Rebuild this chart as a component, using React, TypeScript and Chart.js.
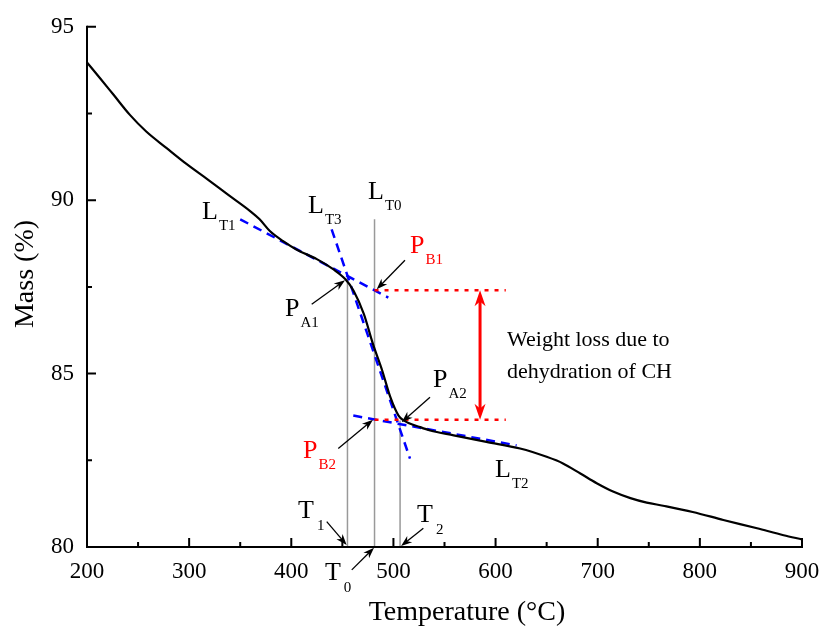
import React, { useEffect, useRef } from 'react';
import { Chart, registerables } from 'chart.js';
Chart.register(...registerables);

// ---- data ----
const temperature = [200, 213, 226, 242, 258, 278, 298, 318, 338, 360, 369, 379, 392, 405, 425, 441, 453, 461, 471, 480, 489, 497, 505, 510, 526, 536, 559, 591, 624, 650, 666, 683, 699, 715, 732, 748, 764, 793, 823, 856, 882, 900];
const mass = [93.97, 93.51, 93.04, 92.46, 91.98, 91.5, 91.03, 90.6, 90.16, 89.68, 89.45, 89.11, 88.82, 88.58, 88.3, 88.01, 87.72, 87.39, 86.72, 85.85, 85.09, 84.32, 83.79, 83.65, 83.46, 83.36, 83.22, 83.03, 82.84, 82.6, 82.41, 82.12, 81.84, 81.6, 81.41, 81.28, 81.19, 81.01, 80.78, 80.54, 80.34, 80.22];

const xTicks = [200, 300, 400, 500, 600, 700, 800, 900];
const yTicks = [80, 85, 90, 95];

// tangent lines (blue dashed)
const lt1T = [350, 495];
const lt1M = [89.45, 87.19];
const lt3T = [439.5, 516.2];
const lt3M = [89.16, 82.55];
const lt2T = [460.7, 620.6];
const lt2M = [83.79, 82.93];

// characteristic temperatures (grey verticals) and their top masses
const charT = [455, 481.5, 506.5];
const charTop = [87.77, 89.45, 83.65];

// P_B1 / P_B2 levels (red dotted)
const levelM = [87.4, 83.67];
const levelEndT = 610;
const arrowT = 584.8;

// text labels: main letter, subscript, colour, anchor (T, M)
const labelMain = ['L', 'L', 'L', 'P', 'P', 'P', 'P', 'L', 'T', 'T', 'T'];
const labelSub = ['T1', 'T3', 'T0', 'B1', 'A1', 'A2', 'B2', 'T2', '1', '2', '0'];
const labelRed = [false, false, false, true, false, false, true, false, false, false, false];
const labelT = [312.6, 416.4, 475.1, 516.2, 393.9, 538.7, 411.5, 599.5, 406.6, 523.1, 433];
const labelM = [89.45, 89.63, 90.03, 88.48, 86.67, 84.6, 82.56, 82.01, 80.83, 80.72, 79.05];

// black pointer arrows: from (T,M) to (T,M)
const ptrFromT = [511.3, 420.0, 535.8, 446.0, 434.7, 529.3, 459.2];
const ptrFromM = [88.27, 87.0, 84.32, 82.84, 80.73, 80.54, 79.34];
const ptrToT = [483.6, 452.6, 508.1, 480.0, 454.2, 507.5, 481.0];
const ptrToM = [87.43, 87.69, 83.6, 83.67, 80.06, 80.03, 79.98];

const noteLines = ['Weight loss due to', 'dehydration of CH'];
const noteT = 611.2;
const noteM = [85.8, 84.88];

const FONT = '"Liberation Serif", "Times New Roman", serif';

function pts(ts: number[], ms: number[]) {
  return ts.map((t, i) => ({ x: t, y: ms[i] }));
}

function arrowHead(ctx: CanvasRenderingContext2D, x1: number, y1: number, x2: number, y2: number, len: number, half: number) {
  const a = Math.atan2(y2 - y1, x2 - x1);
  const bx = x2 - len * Math.cos(a);
  const by = y2 - len * Math.sin(a);
  const mx = x2 - len * 0.7 * Math.cos(a);
  const my = y2 - len * 0.7 * Math.sin(a);
  ctx.beginPath();
  ctx.moveTo(x2, y2);
  ctx.lineTo(bx + half * Math.sin(a), by - half * Math.cos(a));
  ctx.lineTo(mx, my);
  ctx.lineTo(bx - half * Math.sin(a), by + half * Math.cos(a));
  ctx.closePath();
  ctx.fill();
}

const annotPlugin = {
  id: 'annot',
  afterDatasetsDraw(chart: any) {
    const { ctx } = chart;
    const xs = chart.scales.x;
    const ys = chart.scales.y;
    const px = (t: number) => xs.getPixelForValue(t);
    const py = (m: number) => ys.getPixelForValue(m);
    ctx.save();

    // axes lines
    ctx.strokeStyle = '#000';
    ctx.lineWidth = 2;
    ctx.lineCap = 'square';
    ctx.beginPath();
    ctx.moveTo(px(200), py(95));
    ctx.lineTo(px(200), py(80));
    ctx.lineTo(px(900), py(80));
    ctx.stroke();
    ctx.lineCap = 'butt';
    // inward ticks
    ctx.beginPath();
    for (let t = 200; t <= 900; t += 50) {
      const len = t % 100 === 0 ? 9 : 5;
      ctx.moveTo(px(t), py(80));
      ctx.lineTo(px(t), py(80) - len);
    }
    for (let m = 80; m <= 95; m += 2.5) {
      const len = m % 5 === 0 ? 9 : 5;
      ctx.moveTo(px(200), py(m));
      ctx.lineTo(px(200) + len, py(m));
    }
    ctx.stroke();

    // black pointer arrows
    ctx.strokeStyle = '#000';
    ctx.fillStyle = '#000';
    ctx.lineWidth = 1.3;
    for (let i = 0; i < ptrFromT.length; i++) {
      const x1 = px(ptrFromT[i]), y1 = py(ptrFromM[i]);
      const x2 = px(ptrToT[i]), y2 = py(ptrToM[i]);
      const a = Math.atan2(y2 - y1, x2 - x1);
      ctx.beginPath();
      ctx.moveTo(x1, y1);
      ctx.lineTo(x2 - 6 * Math.cos(a), y2 - 6 * Math.sin(a));
      ctx.stroke();
      arrowHead(ctx, x1, y1, x2, y2, 11, 4);
    }

    // red double arrow
    ctx.strokeStyle = '#ff0000';
    ctx.fillStyle = '#ff0000';
    ctx.lineWidth = 3;
    const ax = px(arrowT);
    const ay1 = py(levelM[0]);
    const ay2 = py(levelM[1]);
    ctx.beginPath();
    ctx.moveTo(ax, ay1 + 10);
    ctx.lineTo(ax, ay2 - 10);
    ctx.stroke();
    arrowHead(ctx, ax, ay2, ax, ay1, 16, 5.5);
    arrowHead(ctx, ax, ay1, ax, ay2, 16, 5.5);

    // labels
    ctx.textBaseline = 'alphabetic';
    ctx.textAlign = 'left';
    for (let i = 0; i < labelMain.length; i++) {
      const x = px(labelT[i]);
      const y = py(labelM[i]);
      ctx.fillStyle = labelRed[i] ? '#ff0000' : '#000';
      ctx.font = `26px ${FONT}`;
      ctx.fillText(labelMain[i], x, y);
      const w = ctx.measureText(labelMain[i]).width;
      ctx.font = `15px ${FONT}`;
      const isT = labelMain[i] === 'T';
      ctx.fillText(labelSub[i], x + w + (isT ? 3 : 1), y + (isT ? 12 : 11));
    }

    // note text
    ctx.fillStyle = '#000';
    ctx.font = `22px ${FONT}`;
    noteLines.forEach((s, i) => ctx.fillText(s, px(noteT), py(noteM[i])));

    // axis titles
    ctx.font = `28px ${FONT}`;
    ctx.textAlign = 'center';
    ctx.fillText('Temperature (°C)', 467, 620);
    ctx.save();
    ctx.translate(33, 274);
    ctx.rotate(-Math.PI / 2);
    ctx.fillText('Mass (%)', 0, 0);
    ctx.restore();

    ctx.restore();
  },
};

export default function App() {
  const ref = useRef<HTMLCanvasElement>(null);
  useEffect(() => {
    const canvas = ref.current!;
    const blue = { borderColor: '#0000ff', borderWidth: 2.5, borderDash: [9, 6], pointRadius: 0, showLine: true, order: 2 };
    const grey = { borderColor: '#999999', borderWidth: 1.5, pointRadius: 0, showLine: true, order: 3 };
    const red = { borderColor: '#ff0000', borderWidth: 2.5, borderDash: [4, 6], pointRadius: 0, showLine: true, order: 1 };
    const chart = new Chart(canvas, {
      type: 'scatter',
      data: {
        datasets: [
          { data: pts(temperature, mass), borderColor: '#000', borderWidth: 2.2, pointRadius: 0, showLine: true, cubicInterpolationMode: 'monotone', order: 0 } as any,
          { data: pts(lt1T, lt1M), ...blue },
          { data: pts(lt3T, lt3M), ...blue },
          { data: pts(lt2T, lt2M), ...blue },
          ...charT.map((t, i) => ({ data: pts([t, t], [charTop[i], 80]), ...grey })),
          ...levelM.map((m) => ({ data: pts([charT[1], levelEndT], [m, m]), ...red })),
        ],
      },
      options: {
        animation: false,
        responsive: false,
        devicePixelRatio: 1,
        layout: { padding: { top: 25, right: 22, left: 0, bottom: 0 } },
        plugins: { legend: { display: false }, tooltip: { enabled: false } },
        scales: {
          x: {
            type: 'linear',
            min: 200,
            max: 900,
            afterBuildTicks: (s: any) => { s.ticks = xTicks.map((v) => ({ value: v })); },
            afterFit: (s: any) => { s.height = 79; s.paddingLeft = 0; s.paddingRight = 0; },
            grid: { display: false, drawTicks: false },
            border: { display: false },
            ticks: { color: '#000', padding: 11, maxRotation: 0, autoSkip: false, font: { family: FONT, size: 23 } },
          },
          y: {
            type: 'linear',
            min: 80,
            max: 95,
            afterBuildTicks: (s: any) => { s.ticks = yTicks.map((v) => ({ value: v })); },
            afterFit: (s: any) => { s.width = 87; },
            grid: { display: false, drawTicks: false },
            border: { display: false },
            ticks: { color: '#000', padding: 13, autoSkip: false, font: { family: FONT, size: 23 } },
          },
        },
      },
      plugins: [annotPlugin],
    } as any);
    return () => chart.destroy();
  }, []);
  return (
    <div style={{ position: 'fixed', left: 0, top: 0, width: 824, height: 626, background: '#fff' }}>
      <canvas ref={ref} width={824} height={626} style={{ display: 'block' }} />
    </div>
  );
}
